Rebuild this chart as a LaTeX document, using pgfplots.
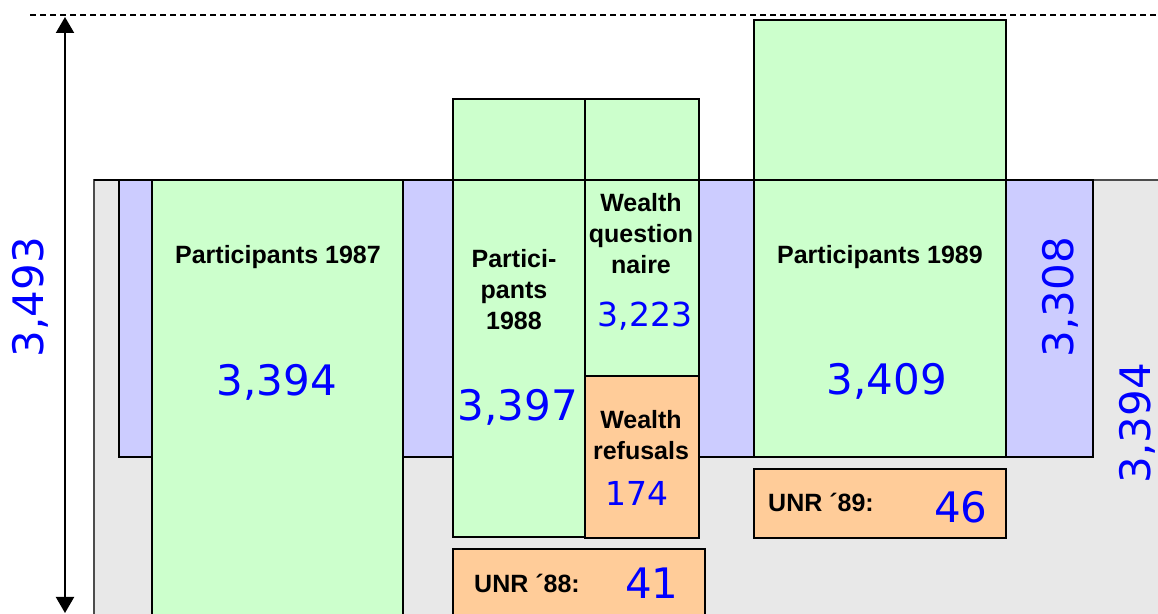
\documentclass[border=0pt]{standalone}
\usepackage{fontspec}
\setmainfont{Liberation Sans}
\newfontfamily\numfont{DejaVu Sans}
\usepackage{pgfplots}
\pgfplotsset{compat=1.18}
\usetikzlibrary{arrows.meta}
\definecolor{pgreen}{HTML}{CCFFCC}
\definecolor{plav}{HTML}{CCCCFF}
\definecolor{porange}{HTML}{FFCC99}
\definecolor{pgray}{HTML}{E8E8E8}
\definecolor{pblue}{HTML}{0000FF}
\tikzset{
  big/.style={text=pblue,font=\numfont\fontsize{21}{25}\selectfont},
  small/.style={text=pblue,font=\numfont\fontsize{16.5}{20}\selectfont},
  lab/.style={font=\bfseries\fontsize{12.5}{15.5}\selectfont,align=center},
  box/.style={draw=black,line width=0.7pt}}
\begin{document}
\begin{tikzpicture}
\begin{axis}[width=579pt,height=307pt,scale only axis,
  xmin=0,xmax=1158,ymin=0,ymax=614,y dir=reverse,axis lines=none,clip=true]
% background
\addplot[draw=black!70,fill=pgray,line width=0.7pt] coordinates {(94,180)(1175,180)(1175,640)(94,640)} -- cycle;
% lavender band
\addplot[box,fill=plav] coordinates {(119,180)(1093,180)(1093,457)(119,457)} -- cycle;
% green boxes
\addplot[box,fill=pgreen] coordinates {(152,180)(403,180)(403,640)(152,640)} -- cycle;
\addplot[box,fill=pgreen] coordinates {(453,99)(585,99)(585,537)(453,537)} -- cycle;
\addplot[box,fill=pgreen] coordinates {(585,99)(699,99)(699,376)(585,376)} -- cycle;
\addplot[box,fill=pgreen] coordinates {(754,20)(1006,20)(1006,457)(754,457)} -- cycle;
% orange boxes
\addplot[box,fill=porange] coordinates {(585,376)(699,376)(699,538)(585,538)} -- cycle;
\addplot[box,fill=porange] coordinates {(453,549)(705,549)(705,640)(453,640)} -- cycle;
\addplot[box,fill=porange] coordinates {(754,469)(1006,469)(1006,538)(754,538)} -- cycle;
% line at band top
\addplot[draw=black,line width=0.7pt] coordinates {(94,180)(1093,180)};
% dashed reference line
\addplot[draw=black,line width=0.6pt,dash pattern=on 3pt off 2pt] coordinates {(30,15)(1158,15)};
% double arrow
\addplot[draw=black,line width=1pt,{Triangle[length=8pt,width=9pt]}-{Triangle[length=8pt,width=9pt]}] coordinates {(65,17)(65,613)};
% texts
\node[big,rotate=90] at (axis cs:30,297) {3,493};
\node[big,rotate=90] at (axis cs:1060,297) {3,308};
\node[big,rotate=90] at (axis cs:1137,423) {3,394};
\node[lab] at (axis cs:278,257) {Participants 1987};
\node[big] at (axis cs:277,382) {3,394};
\node[lab] at (axis cs:514,290) {Partici-\\pants\\1988};
\node[big] at (axis cs:518,407) {3,397};
\node[lab] at (axis cs:641,234) {Wealth\\question\\naire};
\node[small] at (axis cs:645,316) {3,223};
\node[lab] at (axis cs:641,435) {Wealth\\refusals};
\node[small] at (axis cs:637,493) {174};
\node[lab] at (axis cs:880,257) {Participants 1989};
\node[big] at (axis cs:887,381) {3,409};
\node[lab] at (axis cs:527,583) {UNR ´88:};
\node[big] at (axis cs:652,583) {41};
\node[lab] at (axis cs:821,502) {UNR ´89:};
\node[big] at (axis cs:961,507) {46};
\end{axis}
\pgfresetboundingbox
\path[use as bounding box] (current axis.south west) rectangle (current axis.north east);
\end{tikzpicture}
\end{document}
